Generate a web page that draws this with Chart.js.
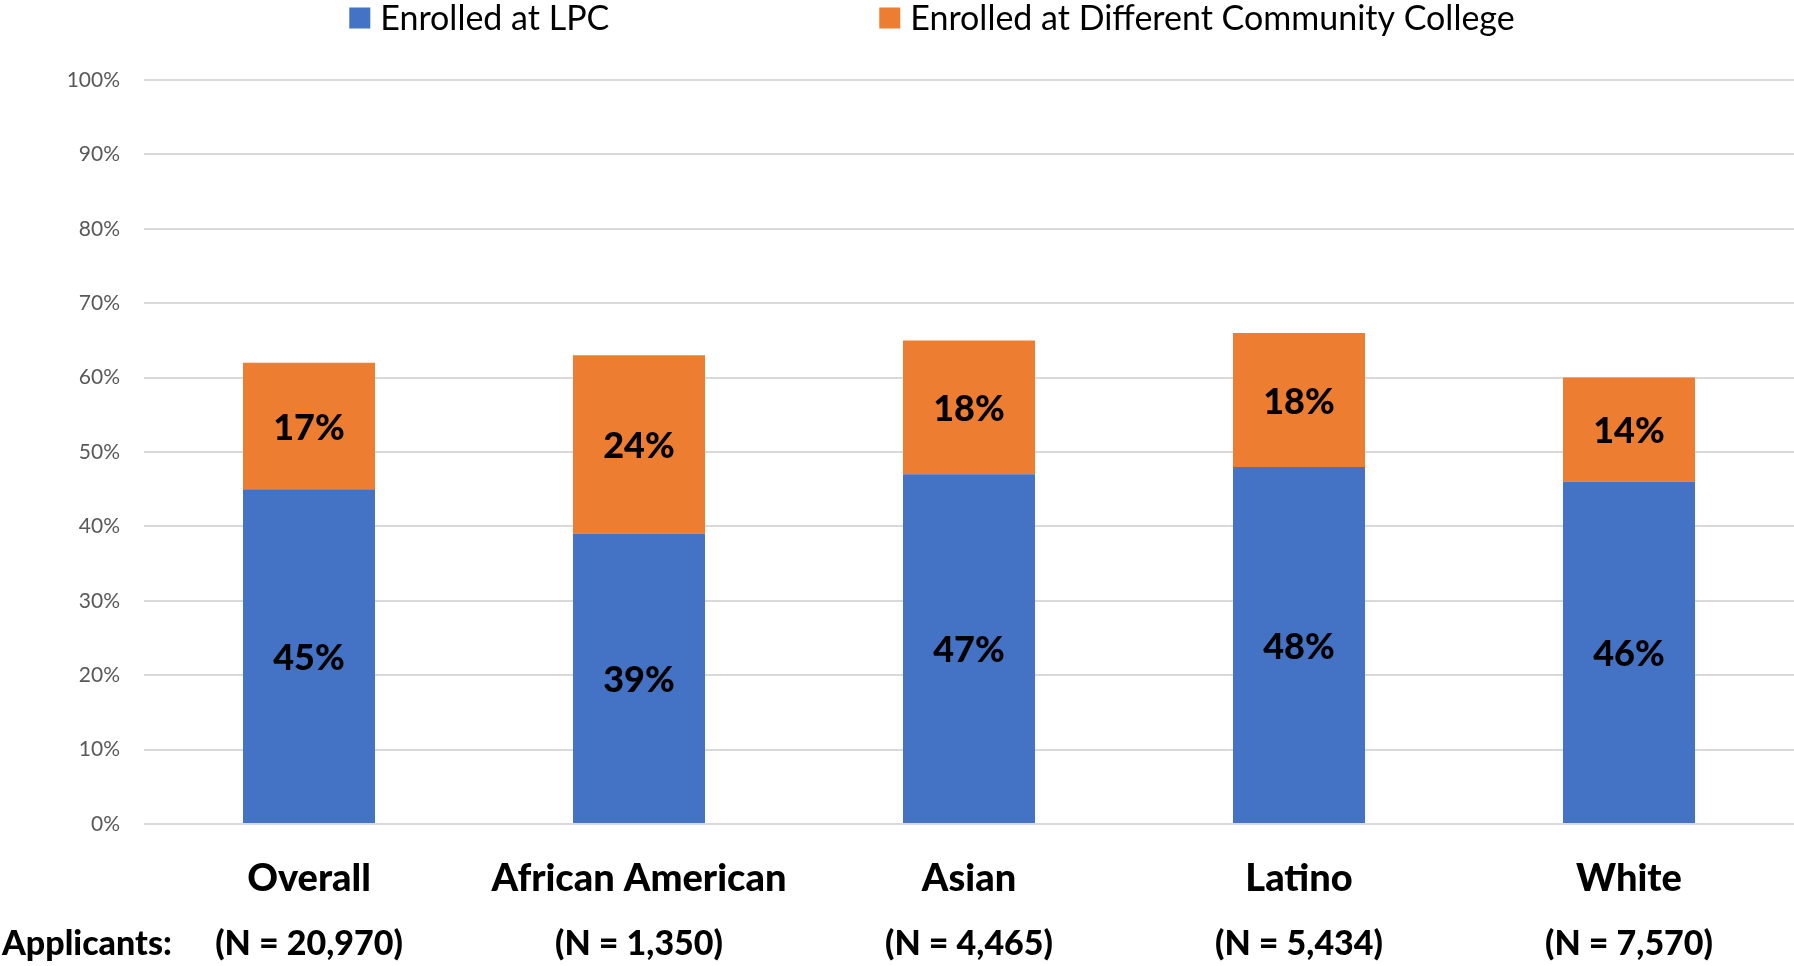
<!DOCTYPE html>
<html>
<head>
<meta charset="utf-8">
<script src="https://cdn.jsdelivr.net/npm/chart.js@4/dist/chart.umd.min.js"></script>
<style>
    html, body { margin: 0; padding: 0; background: #fff; }
    #wrap { width: 1794px; height: 966px; }
</style>
</head>
<body>
<div id="wrap"><canvas id="enrollChart" width="1794" height="966"></canvas></div>
<script>
// Enrollment of applicants by group
const categories = ['Overall', 'African American', 'Asian', 'Latino', 'White'];
const applicantCounts = ['(N = 20,970)', '(N = 1,350)', '(N = 4,465)', '(N = 5,434)', '(N = 7,570)'];
const lpcValues = [45, 39, 47, 48, 46];
const otherCcValues = [17, 24, 18, 18, 14];
const yTicks = [0, 10, 20, 30, 40, 50, 60, 70, 80, 90, 100];

const FONT = 'Lato, "Open Sans", sans-serif';

// Custom legend across the top (Excel-like wide spacing)
const topLegend = {
    id: 'topLegend',
    afterDraw(chart) {
        const ctx = chart.ctx;
        const items = chart.data.datasets;
        const box = 21, textGap = 10, itemGap = 270, y = 18;
        ctx.save();
        ctx.font = '34px ' + FONT;
        const widths = items.map(ds => box + textGap + ctx.measureText(ds.label).width);
        const total = widths.reduce((a, b) => a + b, 0) + itemGap * (items.length - 1);
        let x = 932 - total / 2;
        items.forEach((ds, i) => {
            ctx.fillStyle = ds.backgroundColor;
            ctx.fillRect(x, y - box / 2, box, box);
            ctx.fillStyle = '#000';
            ctx.textBaseline = 'middle';
            ctx.textAlign = 'left';
            ctx.fillText(ds.label, x + box + textGap, y + 1);
            x += widths[i] + itemGap;
        });
        ctx.restore();
    }
};

// Percent labels in the middle of each bar segment
const segmentLabels = {
    id: 'segmentLabels',
    afterDatasetsDraw(chart) {
        const ctx = chart.ctx;
        ctx.save();
        ctx.font = '900 36px ' + FONT;
        ctx.fillStyle = '#000';
        ctx.textAlign = 'center';
        ctx.textBaseline = 'middle';
        chart.data.datasets.forEach((ds, di) => {
            chart.getDatasetMeta(di).data.forEach((bar, i) => {
                const p = bar.getCenterPoint();
                ctx.fillText(ds.data[i] + '%', p.x, p.y + 2);
            });
        });
        ctx.restore();
    }
};

// Applicant counts under the category names
const applicantRow = {
    id: 'applicantRow',
    afterDraw(chart) {
        const ctx = chart.ctx;
        const xs = chart.scales.x;
        const y = xs.top + 120;
        ctx.save();
        ctx.font = '900 34px ' + FONT;
        ctx.fillStyle = '#000';
        ctx.textBaseline = 'middle';
        ctx.textAlign = 'left';
        ctx.fillText('Applicants:', 2, y);
        ctx.textAlign = 'center';
        applicantCounts.forEach((txt, i) => {
            ctx.fillText(txt, xs.getPixelForValue(i), y);
        });
        ctx.restore();
    }
};

new Chart(document.getElementById('enrollChart').getContext('2d'), {
    type: 'bar',
    data: {
        labels: categories,
        datasets: [
            {
                label: 'Enrolled at LPC',
                data: lpcValues,
                backgroundColor: '#4472C4',
                barPercentage: 0.4,
                categoryPercentage: 1
            },
            {
                label: 'Enrolled at Different Community College',
                data: otherCcValues,
                backgroundColor: '#ED7D31',
                barPercentage: 0.4,
                categoryPercentage: 1
            }
        ]
    },
    options: {
        responsive: false,
        animation: false,
        layout: { padding: { top: 80, right: 0, bottom: 0, left: 0 } },
        plugins: {
            legend: { display: false },
            tooltip: { enabled: false }
        },
        scales: {
            x: {
                stacked: true,
                grid: { display: false, drawTicks: false },
                border: { display: false },
                ticks: {
                    color: '#000',
                    font: { family: FONT, size: 38, weight: '900' },
                    padding: 32,
                    maxRotation: 0,
                    autoSkip: false
                },
                afterFit: scale => { scale.height = 142; }
            },
            y: {
                stacked: true,
                min: 0,
                max: 100,
                afterBuildTicks: scale => { scale.ticks = yTicks.map(v => ({ value: v })); },
                grid: { color: '#d9d9d9', lineWidth: 2, drawTicks: false },
                border: { display: false },
                ticks: {
                    color: '#595959',
                    font: { family: FONT, size: 21 },
                    padding: 24,
                    callback: v => v + '%'
                },
                afterFit: scale => { scale.width = 144; }
            }
        }
    },
    plugins: [topLegend, segmentLabels, applicantRow]
});
</script>
</body>
</html>
